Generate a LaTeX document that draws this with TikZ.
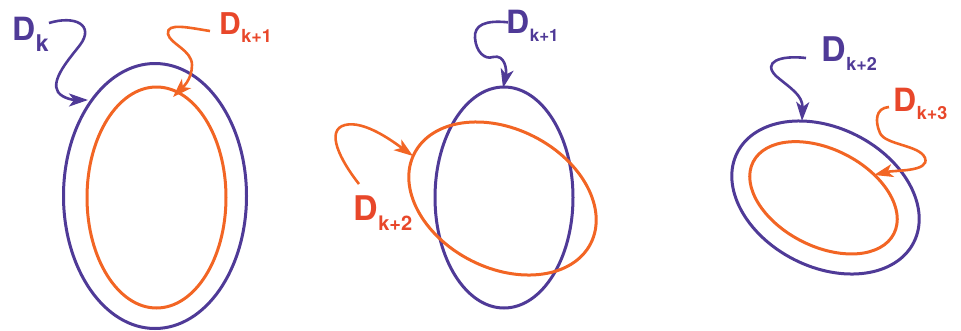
\documentclass[tikz,border=0pt]{standalone}
\usepackage{fontspec}
\setmainfont{TeX Gyre Heros}
\usetikzlibrary{arrows.meta}
\definecolor{purp}{HTML}{4F3A97}
\definecolor{orng}{HTML}{F26524}
\definecolor{orngtxt}{HTML}{E8472A}
\newcommand\Dlab[4]{{\fontsize{#1pt}{#1pt}\selectfont D}\hspace{0.5pt}\raisebox{-#4pt}{\fontsize{#2pt}{#2pt}\selectfont #3}}
\tikzset{
  ring/.style={line width=3pt},
  ptr/.style={line width=2.6pt, -{Stealth[length=19pt,width=13pt,inset=5pt]}},
  lbl/.style={inner sep=0pt, anchor=base west, font=\bfseries},
}
\begin{document}
\begin{tikzpicture}[x=1pt,y=-1pt]
\useasboundingbox (0,0) rectangle (961,330);
% group 1
\draw[ring, purp] (155,196) ellipse (91.5 and 132.5);
\draw[ring, orng] (156.5,197.5) ellipse (69.5 and 110.5);
\node[lbl, text=purp] (l1) at (12,40) {\Dlab{32}{23}{k}{11.5}};
\node[lbl, text=orngtxt] (l2) at (219,34) {\Dlab{30}{18}{k+1}{8}};
\coordinate (t1) at (88,100);
\coordinate (t2) at (173,97);
\draw[ptr, purp] (49,23) .. controls (75,15) and (95,25) .. (80,45) .. controls (70,58) and (50,80) .. (58,92) .. controls (63,99) and (75,100) .. (t1);
\draw[ptr, orng] (210,31) .. controls (190,28) and (166,22) .. (168,34) .. controls (170,44) and (192,50) .. (192,65) .. controls (192,80) and (182,88) .. (t2);
% group 2
\draw[ring, purp] (504,197.5) ellipse (69 and 110.5);
\draw[ring, orng, rotate around={-27:(502.5,198.5)}] (502.5,198.5) ellipse (99 and 69.5);
\node[lbl, text=purp] (l3) at (506,33.3) {\Dlab{32}{17}{k+1}{8.4}};
\node[lbl, text=orngtxt] (l4) at (353,220) {\Dlab{34}{20}{k+2}{10}};
\coordinate (t3) at (503,88);
\coordinate (t4) at (413,156);
\draw[ptr, purp] (l3.base west) ++(2,-11) coordinate (s3) (s3) .. controls (485,20) and (474,25) .. (475,38) .. controls (476,52) and (485,60) .. (493,57) .. controls (505,54) and (507,70) .. (t3);
\draw[ptr, orng] (359,184) .. controls (340,160) and (325,130) .. (345,125) .. controls (365,120) and (395,143) .. (t4);
% group 3
\draw[ring, purp, rotate around={-27:(825.5,197.5)}] (825.5,197.5) ellipse (99 and 69.5);
\draw[ring, orng, rotate around={-27:(823.5,197.8)}] (823.5,197.8) ellipse (79 and 48.5);
\node[lbl, text=purp] (l5) at (821,61.7) {\Dlab{34}{18}{k+2}{8.3}};
\node[lbl, text=orngtxt] (l6) at (893,111.7) {\Dlab{32}{18}{k+3}{7.5}};
\coordinate (t5) at (802,121);
\coordinate (t6) at (874,175);
\draw[ptr, purp] (806,58) .. controls (780,55) and (762,62) .. (776,76) .. controls (790,88) and (803,95) .. (t5);
\draw[ptr, orng] (889,107) .. controls (875,108) and (875,122) .. (880,133) .. controls (885,145) and (920,145) .. (925,158) .. controls (930,172) and (895,170) .. (t6);
\end{tikzpicture}
\end{document}
